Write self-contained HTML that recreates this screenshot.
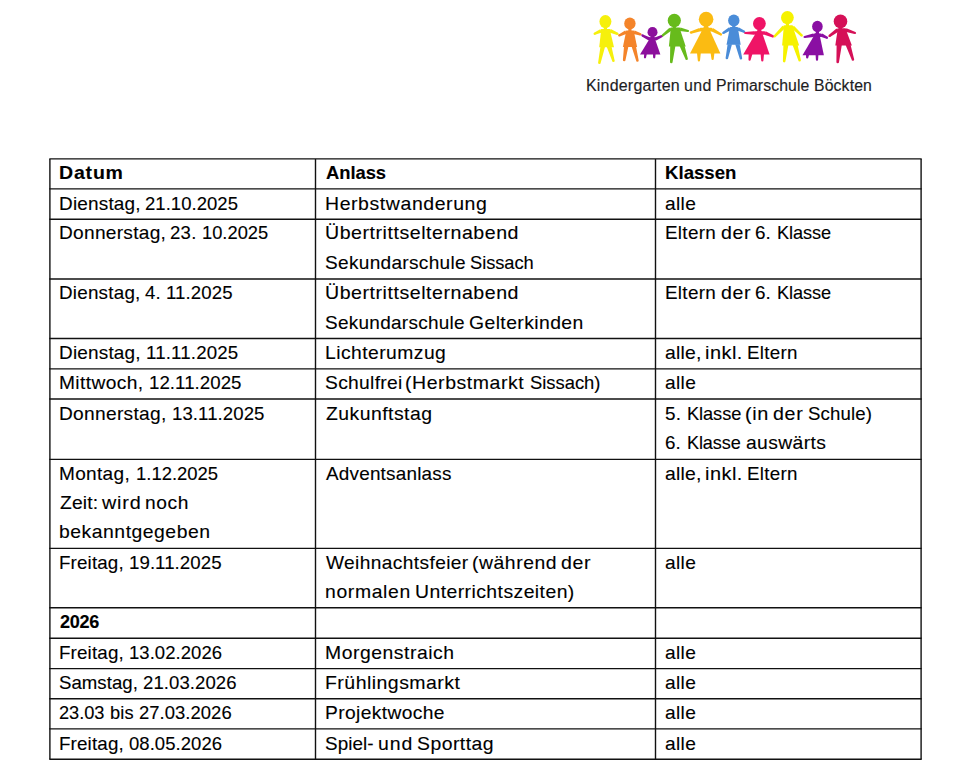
<!DOCTYPE html>
<html lang="de"><head><meta charset="utf-8"><title>Termine</title>
<style>
html,body{margin:0;padding:0;background:#fff;}
body{width:970px;height:778px;position:relative;overflow:hidden;}
.t{position:absolute;white-space:nowrap;font-family:"Liberation Sans",Arial,sans-serif;color:#000;transform-origin:0 0;display:block;-webkit-text-stroke:0.12px #000;}
.grid,.logo{position:absolute;left:0;top:0;}
</style></head><body>
<svg class="logo" width="970" height="100" viewBox="0 0 970 100"><g fill="#f6f00c"><ellipse cx="605.4" cy="21.6" rx="6.0" ry="6.5"/><rect x="603.8" y="26.6" width="3.2" height="5.7"/><rect x="600.5" y="29.0" width="10.0" height="3.6" rx="1.4"/><path d="M600.2 29.2L594.1 32.8L595.1 34.8L601.8 32.4Z"/><circle cx="594.6" cy="33.8" r="1.1"/><path d="M609.3 32.5L617.1 34.9L617.9 32.7L610.7 29.1Z"/><circle cx="617.5" cy="33.8" r="1.1"/><path d="M601.2 29.6L609.8 29.6L614.0 47.3L599.2 47.3Z"/><path d="M600.4 47.0L605.0 47.0L600.7 62.7A1.3 1.3 0 0 1 598.1 62.7Z"/><path d="M606.8 47.0L611.6 47.0L614.7 60.7A1.3 1.3 0 0 1 612.1 60.7Z"/></g><g fill="#f4842a"><ellipse cx="629.9" cy="23.4" rx="5.7" ry="6.0"/><rect x="628.3" y="27.9" width="3.2" height="5.8"/><rect x="625.5" y="30.4" width="9.0" height="3.6" rx="1.4"/><path d="M625.2 30.6L618.7 34.4L619.7 36.4L626.8 33.8Z"/><circle cx="619.2" cy="35.4" r="1.1"/><path d="M633.4 33.9L640.1 35.5L640.9 33.3L634.6 30.5Z"/><circle cx="640.5" cy="34.4" r="1.1"/><path d="M626.2 31.0L633.8 31.0L637.1 46.9L622.9 46.9Z"/><path d="M624.0 46.5L628.4 46.5L625.5 59.9A1.3 1.3 0 0 1 622.9 59.9Z"/><path d="M631.6 46.5L636.0 46.5L638.7 60.5A1.3 1.3 0 0 1 636.1 60.5Z"/></g><g fill="#8c0f9c"><ellipse cx="652.5" cy="32.2" rx="5.0" ry="5.1"/><rect x="650.9" y="35.8" width="3.2" height="4.7"/><rect x="649.0" y="37.2" width="7.0" height="3.6" rx="1.4"/><path d="M650.3 37.4L642.9 34.4L641.9 36.4L648.7 40.6Z"/><circle cx="642.4" cy="35.4" r="1.1"/><path d="M656.3 40.6L662.5 37.0L661.5 35.0L654.7 37.4Z"/><circle cx="662.0" cy="36.0" r="1.1"/><path d="M650.7 37.0L654.3 37.0L660.4 54.6L640.0 54.6Z"/><path d="M644.2 54.0L646.8 54.0L646.1 57.3A1.1 1.1 0 0 1 643.9 57.3Z"/><path d="M653.0 54.0L655.6 54.0L655.3 57.3A1.1 1.1 0 0 1 653.1 57.3Z"/></g><g fill="#67bb1c"><ellipse cx="674.3" cy="20.5" rx="6.6" ry="6.8"/><rect x="672.7" y="25.8" width="3.2" height="4.9"/><rect x="670.0" y="27.4" width="10.5" height="3.6" rx="1.4"/><path d="M669.4 27.8L662.1 34.5L663.5 36.3L671.6 30.6Z"/><circle cx="662.8" cy="35.4" r="1.1"/><path d="M679.6 31.0L687.7 32.1L688.3 29.9L680.4 27.4Z"/><circle cx="688.0" cy="31.0" r="1.1"/><path d="M670.8 28.2L679.7 28.2L685.7 46.5L668.9 46.5Z"/><path d="M670.2 46.0L675.4 46.0L672.6 61.9A1.3 1.3 0 0 1 670.0 61.9Z"/><path d="M679.6 46.0L684.6 46.0L687.9 58.7A1.3 1.3 0 0 1 685.3 58.7Z"/></g><g fill="#fbbb12"><ellipse cx="706.1" cy="19.2" rx="7.3" ry="7.4"/><rect x="704.5" y="25.1" width="3.2" height="6.0"/><rect x="699.5" y="27.8" width="13.0" height="3.6" rx="1.4"/><path d="M699.4 27.9L690.4 31.5L691.2 33.7L700.6 31.3Z"/><circle cx="690.8" cy="32.6" r="1.1"/><path d="M711.1 31.2L720.4 35.6L721.6 33.6L712.9 28.0Z"/><circle cx="721.0" cy="34.6" r="1.1"/><path d="M704.3 26.0L707.9 26.0L720.4 53.6L690.0 53.6Z"/><path d="M697.0 53.0L700.8 53.0L700.0 60.4A1.1 1.1 0 0 1 697.8 60.4Z"/><path d="M710.6 53.0L714.4 53.0L713.7 58.9A1.1 1.1 0 0 1 711.5 58.9Z"/></g><g fill="#4a8cd8"><ellipse cx="733.8" cy="20.5" rx="5.7" ry="5.9"/><rect x="732.2" y="24.9" width="3.2" height="5.4"/><rect x="729.5" y="27.0" width="8.8" height="3.6" rx="1.4"/><path d="M729.1 27.3L722.6 32.0L723.8 34.0L730.9 30.3Z"/><circle cx="723.2" cy="33.0" r="1.1"/><path d="M737.0 30.4L743.7 32.8L744.7 30.8L738.6 27.2Z"/><circle cx="744.2" cy="31.8" r="1.1"/><path d="M729.8 28.0L737.9 28.0L740.7 44.7L726.5 44.7Z"/><path d="M727.6 44.3L732.0 44.3L728.2 57.9A1.3 1.3 0 0 1 725.6 57.9Z"/><path d="M735.2 44.3L739.6 44.3L742.2 58.3A1.3 1.3 0 0 1 739.6 58.3Z"/></g><g fill="#ef1466"><ellipse cx="759.4" cy="23.6" rx="6.4" ry="6.6"/><rect x="757.8" y="28.7" width="3.2" height="5.8"/><rect x="753.5" y="31.2" width="12.0" height="3.6" rx="1.4"/><path d="M754.0 31.2L745.2 31.9L745.2 34.1L754.0 34.8Z"/><circle cx="745.2" cy="33.0" r="1.1"/><path d="M764.3 34.7L772.6 37.5L773.4 35.3L765.7 31.3Z"/><circle cx="773.0" cy="36.4" r="1.1"/><path d="M757.6 30.0L761.2 30.0L769.6 54.4L743.2 54.4Z"/><path d="M748.6 54.0L752.4 54.0L750.7 59.7A1.1 1.1 0 0 1 748.5 59.7Z"/><path d="M760.6 54.0L764.0 54.0L763.4 60.5A1.1 1.1 0 0 1 761.2 60.5Z"/></g><g fill="#f6f200"><ellipse cx="787.4" cy="17.6" rx="6.4" ry="6.6"/><rect x="785.8" y="22.7" width="3.2" height="5.8"/><rect x="783.3" y="25.2" width="9.9" height="3.6" rx="1.4"/><path d="M782.5 25.7L773.8 35.6L775.4 37.2L785.1 28.3Z"/><circle cx="774.6" cy="36.4" r="1.1"/><path d="M791.5 28.3L801.0 36.4L802.6 34.8L793.9 25.7Z"/><circle cx="801.8" cy="35.6" r="1.1"/><path d="M783.8 26.4L792.7 26.4L799.2 45.5L782.1 45.5Z"/><path d="M783.4 45.0L788.4 45.0L785.5 61.1A1.3 1.3 0 0 1 782.9 61.1Z"/><path d="M792.6 45.0L797.6 45.0L800.9 60.3A1.3 1.3 0 0 1 798.3 60.3Z"/></g><g fill="#8a0fa3"><ellipse cx="817.4" cy="26.5" rx="5.3" ry="5.8"/><rect x="815.8" y="30.8" width="3.2" height="5.9"/><rect x="813.0" y="33.4" width="9.0" height="3.6" rx="1.4"/><path d="M813.1 33.4L804.4 35.9L804.8 38.1L813.9 37.0Z"/><circle cx="804.6" cy="37.0" r="1.1"/><path d="M820.7 36.8L826.5 38.8L827.5 36.8L822.3 33.6Z"/><circle cx="827.0" cy="37.8" r="1.1"/><path d="M815.6 33.0L819.2 33.0L823.9 55.2L802.5 55.2Z"/><path d="M806.0 55.0L809.0 55.0L808.3 57.5A1.1 1.1 0 0 1 806.1 57.5Z"/><path d="M815.6 55.0L818.4 55.0L818.1 59.7A1.1 1.1 0 0 1 815.9 59.7Z"/></g><g fill="#d51057"><ellipse cx="840.5" cy="21.4" rx="6.8" ry="7.0"/><rect x="838.9" y="26.9" width="3.2" height="4.6"/><rect x="837.1" y="28.2" width="9.2" height="3.6" rx="1.4"/><path d="M836.5 28.5L828.7 35.1L830.1 36.9L838.7 31.5Z"/><circle cx="829.4" cy="36.0" r="1.1"/><path d="M845.2 31.7L854.6 34.1L855.4 31.9L846.4 28.3Z"/><circle cx="855.0" cy="33.0" r="1.1"/><path d="M837.7 29.2L845.8 29.2L851.9 45.5L835.3 45.5Z"/><path d="M836.6 45.0L841.8 45.0L839.0 61.9A1.3 1.3 0 0 1 836.4 61.9Z"/><path d="M845.6 45.0L850.6 45.0L854.2 59.5A1.3 1.3 0 0 1 851.6 59.5Z"/></g></svg>
<span class="t" style="left:585.98px;top:78px;font-size:15.6px;line-height:15.6px;letter-spacing:0.193px;transform:scaleX(1.0249);color:#1d1d1f;-webkit-text-stroke:0.15px #1d1d1f;">Kindergarten</span><span class="t" style="left:683.51px;top:78px;font-size:15.6px;line-height:15.6px;letter-spacing:0.39px;transform:scaleX(1.0224);color:#1d1d1f;-webkit-text-stroke:0.15px #1d1d1f;">und</span><span class="t" style="left:715.56px;top:78px;font-size:15.6px;line-height:15.6px;letter-spacing:0.102px;transform:scaleX(1.0136);color:#1d1d1f;-webkit-text-stroke:0.15px #1d1d1f;">Primarschule</span><span class="t" style="left:813.76px;top:78px;font-size:15.6px;line-height:15.6px;letter-spacing:0.14px;transform:scaleX(1.0121);color:#1d1d1f;-webkit-text-stroke:0.15px #1d1d1f;">Böckten</span>
<svg class="grid" width="970" height="778" viewBox="0 0 970 778"><g stroke="#111" stroke-width="1.4" fill="none"><line x1="49.3" y1="158.9" x2="921.7" y2="158.9"/><line x1="49.3" y1="188.9" x2="921.7" y2="188.9"/><line x1="49.3" y1="219.2" x2="921.7" y2="219.2"/><line x1="49.3" y1="279.0" x2="921.7" y2="279.0"/><line x1="49.3" y1="338.5" x2="921.7" y2="338.5"/><line x1="49.3" y1="368.9" x2="921.7" y2="368.9"/><line x1="49.3" y1="399.0" x2="921.7" y2="399.0"/><line x1="49.3" y1="459.4" x2="921.7" y2="459.4"/><line x1="49.3" y1="548.4" x2="921.7" y2="548.4"/><line x1="49.3" y1="607.8" x2="921.7" y2="607.8"/><line x1="49.3" y1="638.2" x2="921.7" y2="638.2"/><line x1="49.3" y1="668.6" x2="921.7" y2="668.6"/><line x1="49.3" y1="698.7" x2="921.7" y2="698.7"/><line x1="49.3" y1="728.9" x2="921.7" y2="728.9"/><line x1="49.3" y1="759.3" x2="921.7" y2="759.3"/><line x1="49.9" y1="158.9" x2="49.9" y2="759.3"/><line x1="315.5" y1="158.9" x2="315.5" y2="759.3"/><line x1="655.5" y1="158.9" x2="655.5" y2="759.3"/><line x1="921.1" y1="158.9" x2="921.1" y2="759.3"/></g></svg>

<span class="t" style="left:58.95px;top:164px;font-size:18.5px;line-height:18.5px;font-weight:700;letter-spacing:0.775px;transform:scaleX(1.0542);">Datum</span>
<span class="t" style="left:325.60px;top:164px;font-size:18.5px;line-height:18.5px;font-weight:700;letter-spacing:-0.04px;transform:scaleX(0.9933);">Anlass</span>
<span class="t" style="left:665.00px;top:164px;font-size:18.5px;line-height:18.5px;font-weight:700;letter-spacing:0.025px;transform:scaleX(1.0043);">Klassen</span>
<span class="t" style="left:58.98px;top:195px;font-size:18.5px;line-height:18.5px;letter-spacing:0.182px;transform:scaleX(1.0248);">Dienstag,</span>
<span class="t" style="left:144.59px;top:195px;font-size:18.5px;line-height:18.5px;letter-spacing:0.05px;transform:scaleX(0.9989);">21.10.2025</span>
<span class="t" style="left:324.55px;top:195px;font-size:18.5px;line-height:18.5px;letter-spacing:0.564px;transform:scaleX(1.0513);">Herbstwanderung</span>
<span class="t" style="left:664.96px;top:195px;font-size:18.5px;line-height:18.5px;letter-spacing:0.333px;transform:scaleX(1.0357);">alle</span>
<span class="t" style="left:58.97px;top:224px;font-size:18.5px;line-height:18.5px;letter-spacing:0.267px;transform:scaleX(1.0332);">Donnerstag,</span>
<span class="t" style="left:170.40px;top:224px;font-size:18.5px;line-height:18.5px;letter-spacing:0.27px;transform:scaleX(1.0034);">23.</span>
<span class="t" style="left:202.27px;top:224px;font-size:18.5px;line-height:18.5px;letter-spacing:0.018px;transform:scaleX(0.9882);">10.2025</span>
<span class="t" style="left:324.54px;top:224px;font-size:18.5px;line-height:18.5px;letter-spacing:0.51px;transform:scaleX(1.0575);">Übertrittselternabend</span>
<span class="t" style="left:324.57px;top:254px;font-size:18.5px;line-height:18.5px;letter-spacing:0.306px;transform:scaleX(1.0292);">Sekundarschule</span>
<span class="t" style="left:470.20px;top:254px;font-size:18.5px;line-height:18.5px;letter-spacing:-0.056px;transform:scaleX(0.9892);">Sissach</span>
<span class="t" style="left:664.98px;top:224px;font-size:18.5px;line-height:18.5px;letter-spacing:0.292px;transform:scaleX(1.0191);">Eltern</span>
<span class="t" style="left:720.71px;top:224px;font-size:18.5px;line-height:18.5px;letter-spacing:0.634px;transform:scaleX(1.0569);">der</span>
<span class="t" style="left:755.46px;top:224px;font-size:18.5px;line-height:18.5px;letter-spacing:0.124px;transform:scaleX(1.0191);">6.</span>
<span class="t" style="left:777.12px;top:224px;font-size:18.5px;line-height:18.5px;letter-spacing:-0.1px;transform:scaleX(0.9814);">Klasse</span>
<span class="t" style="left:58.98px;top:284px;font-size:18.5px;line-height:18.5px;letter-spacing:0.213px;transform:scaleX(1.0181);">Dienstag,</span>
<span class="t" style="left:145.13px;top:284px;font-size:18.5px;line-height:18.5px;letter-spacing:0.037px;transform:scaleX(1.0052);">4.</span>
<span class="t" style="left:166.48px;top:284px;font-size:18.5px;line-height:18.5px;letter-spacing:0.112px;transform:scaleX(1.0052);">11.2025</span>
<span class="t" style="left:324.54px;top:284px;font-size:18.5px;line-height:18.5px;letter-spacing:0.51px;transform:scaleX(1.0575);">Übertrittselternabend</span>
<span class="t" style="left:324.58px;top:314px;font-size:18.5px;line-height:18.5px;letter-spacing:0.281px;transform:scaleX(1.0245);">Sekundarschule</span>
<span class="t" style="left:469.48px;top:314px;font-size:18.5px;line-height:18.5px;letter-spacing:0.403px;transform:scaleX(1.0455);">Gelterkinden</span>
<span class="t" style="left:664.98px;top:284px;font-size:18.5px;line-height:18.5px;letter-spacing:0.292px;transform:scaleX(1.0191);">Eltern</span>
<span class="t" style="left:720.71px;top:284px;font-size:18.5px;line-height:18.5px;letter-spacing:0.634px;transform:scaleX(1.0569);">der</span>
<span class="t" style="left:755.46px;top:284px;font-size:18.5px;line-height:18.5px;letter-spacing:0.124px;transform:scaleX(1.0191);">6.</span>
<span class="t" style="left:777.12px;top:284px;font-size:18.5px;line-height:18.5px;letter-spacing:-0.1px;transform:scaleX(0.9814);">Klasse</span>
<span class="t" style="left:58.98px;top:344px;font-size:18.5px;line-height:18.5px;letter-spacing:0.182px;transform:scaleX(1.0248);">Dienstag,</span>
<span class="t" style="left:145.58px;top:344px;font-size:18.5px;line-height:18.5px;letter-spacing:0.161px;transform:scaleX(1.0100);">11.11.2025</span>
<span class="t" style="left:324.56px;top:344px;font-size:18.5px;line-height:18.5px;letter-spacing:0.445px;transform:scaleX(1.0421);">Lichterumzug</span>
<span class="t" style="left:664.95px;top:344px;font-size:18.5px;line-height:18.5px;letter-spacing:0.183px;transform:scaleX(1.0456);">alle,</span>
<span class="t" style="left:705.35px;top:344px;font-size:18.5px;line-height:18.5px;letter-spacing:0.434px;transform:scaleX(1.0773);">inkl.</span>
<span class="t" style="left:747.39px;top:344px;font-size:18.5px;line-height:18.5px;letter-spacing:0.267px;transform:scaleX(1.0140);">Eltern</span>
<span class="t" style="left:58.96px;top:374px;font-size:18.5px;line-height:18.5px;letter-spacing:0.367px;transform:scaleX(1.0363);">Mittwoch,</span>
<span class="t" style="left:149.03px;top:374px;font-size:18.5px;line-height:18.5px;letter-spacing:0.047px;transform:scaleX(1.0094);">12.11.2025</span>
<span class="t" style="left:324.56px;top:374px;font-size:18.5px;line-height:18.5px;letter-spacing:0.302px;transform:scaleX(1.0393);">Schulfrei</span>
<span class="t" style="left:405.37px;top:374px;font-size:18.5px;line-height:18.5px;letter-spacing:0.54px;transform:scaleX(1.0526);">(Herbstmarkt</span>
<span class="t" style="left:529.69px;top:374px;font-size:18.5px;line-height:18.5px;letter-spacing:-0.023px;transform:scaleX(0.9954);">Sissach)</span>
<span class="t" style="left:664.96px;top:374px;font-size:18.5px;line-height:18.5px;letter-spacing:0.333px;transform:scaleX(1.0357);">alle</span>
<span class="t" style="left:58.96px;top:405px;font-size:18.5px;line-height:18.5px;letter-spacing:0.278px;transform:scaleX(1.0353);">Donnerstag,</span>
<span class="t" style="left:171.63px;top:405px;font-size:18.5px;line-height:18.5px;letter-spacing:0.083px;transform:scaleX(1.0054);">13.11.2025</span>
<span class="t" style="left:325.60px;top:405px;font-size:18.5px;line-height:18.5px;letter-spacing:0.44px;transform:scaleX(1.0480);">Zukunftstag</span>
<span class="t" style="left:664.98px;top:405px;font-size:18.5px;line-height:18.5px;letter-spacing:0.149px;transform:scaleX(1.0229);">5.</span>
<span class="t" style="left:686.72px;top:405px;font-size:18.5px;line-height:18.5px;letter-spacing:-0.081px;transform:scaleX(0.9850);">Klasse</span>
<span class="t" style="left:745.16px;top:405px;font-size:18.5px;line-height:18.5px;letter-spacing:0.62px;transform:scaleX(1.0740);">(in</span>
<span class="t" style="left:773.21px;top:405px;font-size:18.5px;line-height:18.5px;letter-spacing:0.66px;transform:scaleX(1.0608);">der</span>
<span class="t" style="left:808.10px;top:405px;font-size:18.5px;line-height:18.5px;letter-spacing:0.116px;transform:scaleX(1.0064);">Schule)</span>
<span class="t" style="left:664.98px;top:434px;font-size:18.5px;line-height:18.5px;letter-spacing:0.1px;transform:scaleX(1.0154);">6.</span>
<span class="t" style="left:686.57px;top:434px;font-size:18.5px;line-height:18.5px;letter-spacing:-0.12px;transform:scaleX(0.9778);">Klasse</span>
<span class="t" style="left:745.62px;top:434px;font-size:18.5px;line-height:18.5px;letter-spacing:0.37px;transform:scaleX(1.0425);">auswärts</span>
<span class="t" style="left:58.97px;top:465px;font-size:18.5px;line-height:18.5px;letter-spacing:0.322px;transform:scaleX(1.0279);">Montag,</span>
<span class="t" style="left:136.00px;top:465px;font-size:18.5px;line-height:18.5px;letter-spacing:-0.01px;transform:scaleX(0.9981);">1.12.2025</span>
<span class="t" style="left:60.00px;top:494px;font-size:18.5px;line-height:18.5px;letter-spacing:0.179px;transform:scaleX(1.0408);">Zeit:</span>
<span class="t" style="left:102.48px;top:494px;font-size:18.5px;line-height:18.5px;letter-spacing:0.74px;transform:scaleX(1.0697);">wird</span>
<span class="t" style="left:145.48px;top:494px;font-size:18.5px;line-height:18.5px;letter-spacing:0.581px;transform:scaleX(1.0372);">noch</span>
<span class="t" style="left:58.95px;top:523px;font-size:18.5px;line-height:18.5px;letter-spacing:0.488px;transform:scaleX(1.0472);">bekanntgegeben</span>
<span class="t" style="left:325.60px;top:465px;font-size:18.5px;line-height:18.5px;letter-spacing:0.196px;transform:scaleX(1.0221);">Adventsanlass</span>
<span class="t" style="left:664.95px;top:465px;font-size:18.5px;line-height:18.5px;letter-spacing:0.183px;transform:scaleX(1.0456);">alle,</span>
<span class="t" style="left:705.35px;top:465px;font-size:18.5px;line-height:18.5px;letter-spacing:0.434px;transform:scaleX(1.0773);">inkl.</span>
<span class="t" style="left:747.39px;top:465px;font-size:18.5px;line-height:18.5px;letter-spacing:0.267px;transform:scaleX(1.0140);">Eltern</span>
<span class="t" style="left:58.98px;top:554px;font-size:18.5px;line-height:18.5px;letter-spacing:0.137px;transform:scaleX(1.0151);">Freitag,</span>
<span class="t" style="left:128.76px;top:554px;font-size:18.5px;line-height:18.5px;letter-spacing:0.049px;transform:scaleX(1.0099);">19.11.2025</span>
<span class="t" style="left:325.60px;top:554px;font-size:18.5px;line-height:18.5px;letter-spacing:0.38px;transform:scaleX(1.0335);">Weihnachtsfeier</span>
<span class="t" style="left:471.99px;top:554px;font-size:18.5px;line-height:18.5px;letter-spacing:0.537px;transform:scaleX(1.0446);">(während</span>
<span class="t" style="left:561.34px;top:554px;font-size:18.5px;line-height:18.5px;letter-spacing:0.631px;transform:scaleX(1.0565);">der</span>
<span class="t" style="left:324.55px;top:583px;font-size:18.5px;line-height:18.5px;letter-spacing:0.621px;transform:scaleX(1.0461);">normalen</span>
<span class="t" style="left:415.24px;top:583px;font-size:18.5px;line-height:18.5px;letter-spacing:0.417px;transform:scaleX(1.0478);">Unterrichtszeiten)</span>
<span class="t" style="left:664.96px;top:554px;font-size:18.5px;line-height:18.5px;letter-spacing:0.333px;transform:scaleX(1.0357);">alle</span>
<span class="t" style="left:60.00px;top:613px;font-size:18.5px;line-height:18.5px;font-weight:700;letter-spacing:-0.317px;transform:scaleX(0.9775);">2026</span>
<span class="t" style="left:58.98px;top:644px;font-size:18.5px;line-height:18.5px;letter-spacing:0.14px;transform:scaleX(1.0158);">Freitag,</span>
<span class="t" style="left:128.82px;top:644px;font-size:18.5px;line-height:18.5px;letter-spacing:0.052px;transform:scaleX(0.9994);">13.02.2026</span>
<span class="t" style="left:324.55px;top:644px;font-size:18.5px;line-height:18.5px;letter-spacing:0.521px;transform:scaleX(1.0451);">Morgenstraich</span>
<span class="t" style="left:664.96px;top:644px;font-size:18.5px;line-height:18.5px;letter-spacing:0.333px;transform:scaleX(1.0357);">alle</span>
<span class="t" style="left:58.99px;top:674px;font-size:18.5px;line-height:18.5px;letter-spacing:0.031px;transform:scaleX(1.0057);">Samstag,</span>
<span class="t" style="left:142.77px;top:674px;font-size:18.5px;line-height:18.5px;letter-spacing:0.073px;transform:scaleX(1.0034);">21.03.2026</span>
<span class="t" style="left:324.55px;top:674px;font-size:18.5px;line-height:18.5px;letter-spacing:0.45px;transform:scaleX(1.0528);">Frühlingsmarkt</span>
<span class="t" style="left:664.96px;top:674px;font-size:18.5px;line-height:18.5px;letter-spacing:0.333px;transform:scaleX(1.0357);">alle</span>
<span class="t" style="left:59.01px;top:704px;font-size:18.5px;line-height:18.5px;letter-spacing:-0.078px;transform:scaleX(0.9862);">23.03</span>
<span class="t" style="left:110.08px;top:704px;font-size:18.5px;line-height:18.5px;letter-spacing:0.171px;transform:scaleX(0.9862);">bis</span>
<span class="t" style="left:139.30px;top:704px;font-size:18.5px;line-height:18.5px;letter-spacing:0.04px;transform:scaleX(0.9969);">27.03.2026</span>
<span class="t" style="left:324.56px;top:704px;font-size:18.5px;line-height:18.5px;letter-spacing:0.377px;transform:scaleX(1.0377);">Projektwoche</span>
<span class="t" style="left:664.96px;top:704px;font-size:18.5px;line-height:18.5px;letter-spacing:0.333px;transform:scaleX(1.0357);">alle</span>
<span class="t" style="left:58.98px;top:735px;font-size:18.5px;line-height:18.5px;letter-spacing:0.14px;transform:scaleX(1.0158);">Freitag,</span>
<span class="t" style="left:128.82px;top:735px;font-size:18.5px;line-height:18.5px;letter-spacing:0.052px;transform:scaleX(0.9994);">08.05.2026</span>
<span class="t" style="left:324.58px;top:735px;font-size:18.5px;line-height:18.5px;letter-spacing:0.087px;transform:scaleX(1.0189);">Spiel-</span>
<span class="t" style="left:377.50px;top:735px;font-size:18.5px;line-height:18.5px;letter-spacing:0.901px;transform:scaleX(1.0518);">und</span>
<span class="t" style="left:417.05px;top:735px;font-size:18.5px;line-height:18.5px;letter-spacing:0.456px;transform:scaleX(1.0476);">Sporttag</span>
<span class="t" style="left:664.96px;top:735px;font-size:18.5px;line-height:18.5px;letter-spacing:0.333px;transform:scaleX(1.0357);">alle</span>
</body></html>
